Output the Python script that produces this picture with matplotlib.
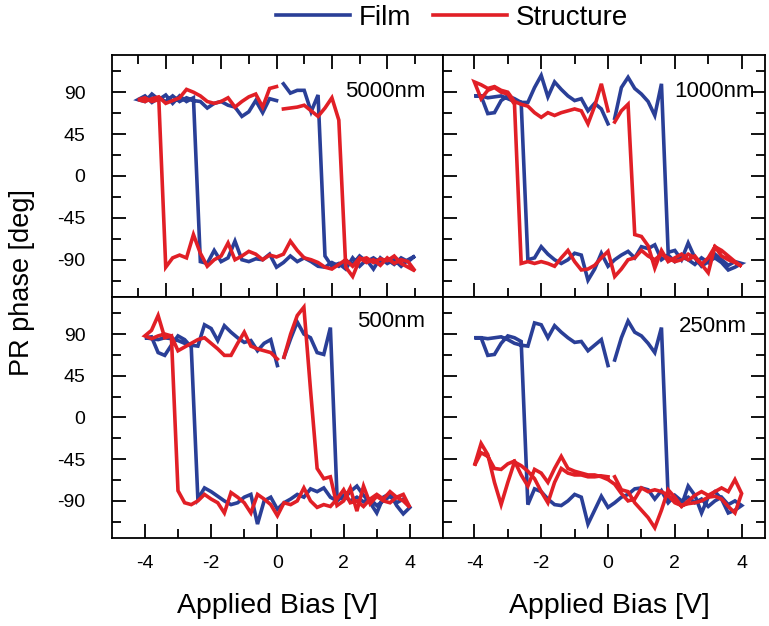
import numpy as np
import matplotlib.pyplot as plt

plt.rcParams['font.family'] = ['Liberation Sans', 'DejaVu Sans']
plt.rcParams['axes.unicode_minus'] = False

# bias sweep: 0 -> +4, +4 -> -4, -4 -> 0 (V)
bias_up = [0.2, 0.4, 0.6, 0.8, 1.0, 1.2, 1.4, 1.6, 1.8, 2.0,
           2.2, 2.4, 2.6, 2.8, 3.0, 3.2, 3.4, 3.6, 3.8, 4.0]
bias_down = [3.8, 3.6, 3.4, 3.2, 3.0, 2.8, 2.6, 2.4, 2.2, 2.0,
             1.8, 1.6, 1.4, 1.2, 1.0, 0.8, 0.6, 0.4, 0.2, 0.0,
             -0.2, -0.4, -0.6, -0.8, -1.0, -1.2, -1.4, -1.6, -1.8, -2.0,
             -2.2, -2.4, -2.6, -2.8, -3.0, -3.2, -3.4, -3.6, -3.8, -4.0]
bias_back = [-3.8, -3.6, -3.4, -3.2, -3.0, -2.8, -2.6, -2.4, -2.2, -2.0,
             -1.8, -1.6, -1.4, -1.2, -1.0, -0.8, -0.6, -0.4, -0.2, 0.0]
bias = bias_up + bias_down + bias_back

# PR phase [deg]
film_5000 = ([99, 89, 92, 92, 69, 87, -86, -97, -94, -100,
              -88, -97, -90, -100, -88, -94, -90, -97, -90, -86]
             + [-92, -88, -95, -90, -93, -88, -92, -86, -95, -91,
                -97, -93, -98, -97, -92, -88, -92, -86, -93, -98,
                -84, -90, -89, -92, -90, -70, -88, -92, -80, -94,
                -92, 84, 80, 86, 78, 87, 82, 88, 80, 82]
             + [86, 79, 84, 80, 86, 80, 84, 81, 80, 73,
                78, 80, 76, 74, 64, 69, 81, 68, 83, 81])
struct_5000 = ([72, 73, 74, 76, 70, 64, 73, 84, 60, -98,
                -108, -90, -88, -93, -89, -91, -86, -94, -98, -102]
               + [-92, -90, -94, -88, -96, -90, -93, -88, -97, -90,
                  -95, -100, -98, -93, -90, -88, -80, -70, -84, -87,
                  -85, -90, -84, -81, -86, -90, -72, -86, -90, -97,
                  -83, -63, -88, -85, -88, -98, 82, 80, 84, 82]
               + [80, 83, 85, 78, 81, 84, 93, 90, 86, 80,
                  78, 80, 84, 74, 80, 85, 88, 74, 94, 96])

film_1000 = ([62, 95, 106, 94, 88, 80, 65, 99, -82, -80,
              -90, -72, -88, -97, -92, -88, -93, -101, -98, -94]
             + [-92, -96, -90, -84, -93, -88, -95, -90, -87, -92,
                -85, -90, -74, -78, -76, -88, -81, -85, -90, -97,
                -83, -100, -112, -85, -83, -90, -94, -90, -84, -76,
                -88, -90, 79, 83, 86, 81, 68, 67, 86, 86]
             + [86, 84, 85, 86, 83, 80, 79, 79, 95, 108,
                85, 101, 93, 86, 81, 83, 70, 78, 72, 56])
struct_1000 = ([58, 70, 77, -63, -65, -75, -99, -80, -92, -88,
                -84, -90, -86, -95, -88, -76, -86, -90, -93, -97]
               + [-92, -86, -80, -76, -104, -95, -88, -84, -90, -92,
                  -88, -84, -90, -86, -80, -88, -90, -100, -108, -81,
                  -88, -96, -100, -101, -92, -80, -88, -97, -94, -92,
                  -94, -92, -94, 77, 88, 90, 95, 92, 83, 101]
               + [98, 94, 96, 92, 90, 80, 77, 75, 68, 63,
                  68, 65, 68, 70, 72, 70, 56, 75, 99, 70])

film_500 = ([65, 85, 103, 90, 86, 70, 68, 97, -85, -88,
             -80, -74, -84, -92, -103, -86, -82, -95, -104, -97]
            + [-88, -92, -85, -90, -95, -88, -91, -86, -90, -84,
               -90, -86, -76, -80, -77, -86, -83, -88, -92, -99,
               -86, -90, -115, -83, -86, -92, -94, -90, -85, -80,
               -76, -88, 76, 84, 88, 78, 67, 70, 87, 86]
            + [85, 84, 86, 85, 83, 80, 78, 77, 100, 96,
               83, 99, 92, 86, 81, 83, 72, 80, 84, 56])
struct_500 = ([65, 90, 110, 119, 30, -55, -66, -64, -95, -90,
               -76, -101, -74, -93, -85, -90, -92, -86, -83, -97]
              + [-90, -86, -80, -88, -83, -88, -96, -90, -92, -78,
                 -88, -96, -94, -97, -90, -76, -90, -94, -92, -106,
                 -94, -88, -83, -103, -92, -86, -81, -103, -92, -88,
                 -83, -90, -94, -92, -79, 88, 86, 110, 94, 88]
              + [85, 88, 90, 88, 72, 76, 80, 84, 86, 80,
                 74, 67, 67, 80, 92, 77, 74, 72, 70, 63])

film_250 = ([62, 86, 104, 92, 88, 80, 70, 97, -86, -90,
             -95, -74, -84, -103, -86, -80, -88, -103, -100, -95]
            + [-90, -94, -86, -90, -96, -88, -92, -86, -90, -84,
               -92, -79, -88, -78, -76, -77, -83, -86, -92, -97,
               -85, -100, -115, -86, -83, -90, -95, -94, -88, -80,
               -77, -94, 82, 86, 88, 80, 68, 67, 86, 86]
            + [86, 85, 86, 87, 84, 80, 78, 77, 102, 100,
               86, 99, 92, 86, 81, 82, 72, 78, 84, 56])
struct_250 = ([-64, -78, -80, -92, -100, -108, -119, -100, -78, -86,
               -96, -90, -84, -80, -84, -80, -76, -80, -67, -82]
              + [-103, -96, -88, -85, -86, -90, -92, -93, -95, -92,
                 -84, -80, -78, -80, -76, -88, -90, -82, -72, -67,
                 -64, -62, -62, -60, -58, -55, -42, -55, -70, -60,
                 -56, -74, -62, -47, -50, -56, -55, -42, -38, -52]
              + [-28, -40, -70, -94, -70, -48, -52, -58, -66, -80,
                 -92, -70, -55, -60, -62, -62, -64, -64, -63, -64])

labels = ['5000nm', '1000nm', '500nm', '250nm']
film_color = '#2A3F97'
struct_color = '#E11F26'

fig = plt.figure(figsize=(7.69, 6.26), dpi=100)

ax_tl = fig.add_axes([0.1453, 0.5256, 0.4308, 0.3866])
ax_tr = fig.add_axes([0.5761, 0.5256, 0.4187, 0.3866])
ax_bl = fig.add_axes([0.1453, 0.1406, 0.4308, 0.3850])
ax_br = fig.add_axes([0.5761, 0.1406, 0.4187, 0.3850])

panels = [
    (ax_tl, film_5000, struct_5000, labels[0], (-4.76, 4.81), (0.946, 0.848)),
    (ax_tr, film_1000, struct_1000, labels[1], (-4.94, 4.70), (0.969, 0.848)),
    (ax_bl, film_500, struct_500, labels[2], (-5.0, 5.0), (0.946, 0.897)),
    (ax_br, film_250, struct_250, labels[3], (-4.94, 4.70), (0.944, 0.877)),
]

for ax, film, struct, lab, xl, tpos in panels:
    l1, = ax.plot(bias, film, color=film_color, lw=2.6, solid_joinstyle='miter')
    l2, = ax.plot(bias, struct, color=struct_color, lw=2.6, solid_joinstyle='miter')
    ax.set_xlim(xl)
    ax.set_ylim(-130, 130)
    ax.set_yticks([-90, -45, 0, 45, 90])
    ax.set_yticks([-112.5, -67.5, -22.5, 22.5, 67.5, 112.5], minor=True)
    ax.text(tpos[0], tpos[1], lab, transform=ax.transAxes, ha='right',
            va='center', fontsize=16)
    for sp in ax.spines.values():
        sp.set_linewidth(1.3)
    ax.tick_params(which='both', direction='in', width=1.3, labelsize=14)
    ax.tick_params(which='major', length=10)
    ax.tick_params(which='minor', length=6.5)

# top-left axis has its own tick spacing
ax_tl.set_xticks([-3.2, -1.6, 0, 1.6, 3.2])
ax_tl.set_xticks([-4, -2.4, -0.8, 0.8, 2.4, 4], minor=True)
for ax in [ax_tr, ax_bl, ax_br]:
    ax.set_xticks([-4, -2, 0, 2, 4])
    ax.set_xticks([-3, -1, 1, 3], minor=True)

ax_tl.tick_params(which='both', top=True, bottom=True, left=True, right=False,
                  labelbottom=False, labelleft=True, pad=19)
ax_tr.tick_params(which='both', top=True, bottom=True, left=True, right=True,
                  labelbottom=False, labelleft=False)
ax_bl.tick_params(which='both', top=False, bottom=True, left=True, right=False,
                  labelbottom=True, labelleft=True)
ax_br.tick_params(which='both', top=False, bottom=True, left=True, right=True,
                  labelbottom=True, labelleft=False)
ax_bl.tick_params(axis='y', pad=19)
ax_bl.tick_params(axis='x', pad=12)
ax_br.tick_params(axis='x', pad=12)

fig.text(0.029, 0.548, 'PR phase [deg]', rotation=90, ha='center', va='center',
         fontsize=19.5)
fig.text(0.361, 0.032, 'Applied Bias [V]', ha='center', va='center', fontsize=20.5)
fig.text(0.793, 0.032, 'Applied Bias [V]', ha='center', va='center', fontsize=20.5)

fig.legend([l1, l2], ['Film', 'Structure'], loc='center', ncol=2,
           bbox_to_anchor=(0.588, 0.972), frameon=False, fontsize=20,
           handlelength=2.66, handletextpad=0.32, columnspacing=0.8)

fig.savefig('out.png', dpi=100)
